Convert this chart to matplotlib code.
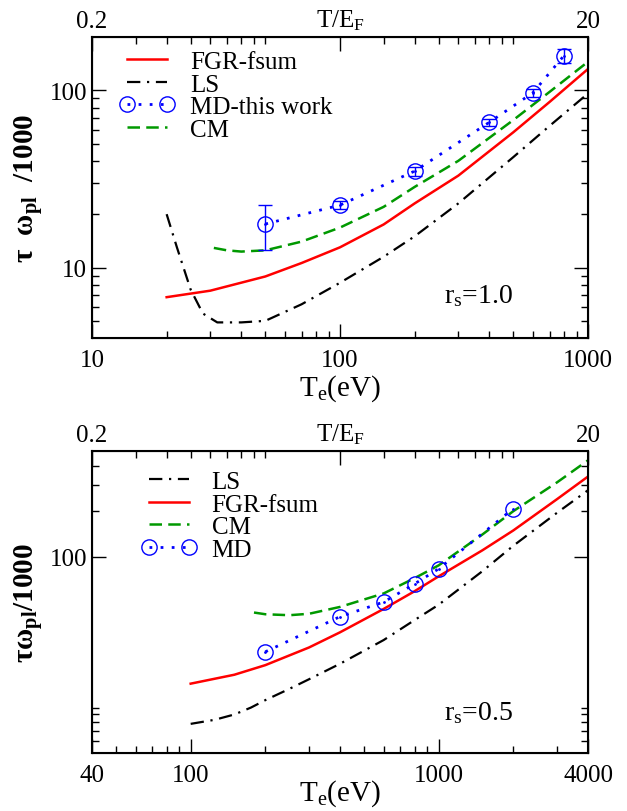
import numpy as np
import matplotlib
matplotlib.use('Agg')
import matplotlib.pyplot as plt
from matplotlib.ticker import FixedLocator, FixedFormatter, NullFormatter

plt.rcParams['font.family'] = ['Liberation Serif', 'DejaVu Serif']
plt.rcParams['mathtext.fontset'] = 'custom'
plt.rcParams['mathtext.rm'] = 'Liberation Serif'
plt.rcParams['mathtext.it'] = 'Liberation Serif:italic'
plt.rcParams['mathtext.bf'] = 'Liberation Serif:bold'

# ---- rs = 1.0 (top panel) ----
te_fgr1 = [20, 30, 50, 70, 100, 150, 200, 300, 500, 700, 1000]
fgr1 = [6.8, 7.4, 8.9, 10.6, 13.0, 17.5, 23.0, 33.0, 58.0, 86.0, 132.0]
te_ls1 = [20, 22, 25, 28, 32, 40, 50, 70, 100, 150, 200, 300, 500, 700, 1000]
ls1 = [20.0, 13.0, 7.5, 5.5, 4.9, 4.9, 5.0, 6.2, 8.2, 11.5, 15.0, 23.0, 42.0, 63.0, 96.0]
te_cm1 = [31, 35, 40, 50, 70, 100, 150, 200, 300, 500, 700, 1000]
cm1 = [12.9, 12.5, 12.3, 12.5, 14.0, 16.8, 22.0, 28.5, 40.0, 68.0, 98.0, 145.0]
te_md1 = [50, 100, 200, 400, 600, 800]
md1 = [17.6, 22.5, 35.0, 66.0, 97.0, 157.0]
md1_err = [5.0, 1.2, 2.0, 3.0, 5.0, 15.0]

# ---- rs = 0.5 (bottom panel) ----
te_fgr2 = [100, 150, 200, 300, 400, 600, 800, 1000, 1500, 2000, 3000, 4000]
fgr2 = [14.4, 16.5, 19.1, 25.0, 31.5, 45.0, 59.0, 74.0, 110.0, 149.0, 240.0, 339.0]
te_ls2 = [100, 125, 150, 175, 200, 250, 300, 400, 600, 800, 1000, 1500, 2000, 3000, 4000]
ls2 = [7.8, 8.3, 9.0, 10.0, 11.2, 13.3, 15.4, 19.5, 28.0, 38.0, 48.0, 80.0, 118.0, 195.0, 275.0]
te_cm2 = [180, 200, 250, 300, 400, 600, 800, 1000, 1500, 2000, 3000, 4000]
cm2 = [42.6, 41.5, 40.9, 41.8, 46.4, 57.0, 72.0, 87.5, 140.0, 200.0, 310.0, 434.0]
te_md2 = [200, 400, 600, 800, 1000, 2000]
md2 = [23.4, 40.0, 50.0, 66.0, 83.0, 208.0]

FS = 18
red = '#ff0000'
green = '#009900'
blue = '#0000ff'
dashdot = (0, (6, 3, 1, 3))
dashed = (0, (5, 2.5))
dotted = (0, (1, 3))


def md_line(ax, x, y, label, yerr=None):
    if yerr is not None:
        ax.errorbar(x, y, yerr=yerr, fmt='none', ecolor=blue, elinewidth=1,
                    capsize=5, capthick=1, zorder=4)
    ax.plot(x, y, color=blue, ls=dotted, lw=2, marker='o', ms=11,
            mfc='none', mec=blue, mew=1, label=label, zorder=5)
    ax.plot(x, y, ls='none', marker='.', ms=2, color=blue, zorder=5)


def style_axes(ax):
    ax.set_xscale('log')
    ax.set_yscale('log')
    ax.tick_params(which='both', direction='in', top=False, right=True,
                   labelsize=FS, width=1)
    ax.tick_params(which='major', length=10)
    ax.tick_params(which='minor', length=5)
    for s in ax.spines.values():
        s.set_linewidth(1.5)


def top_axis(ax, lo, hi, minor):
    ax2 = ax.twiny()
    ax2.set_xscale('log')
    ax2.set_xlim(lo, hi)
    ax2.xaxis.set_major_locator(FixedLocator([lo, lo * 10, hi]))
    ax2.xaxis.set_major_formatter(FixedFormatter(['0.2', r'T/E$_\mathregular{F}$', '20']))
    ax2.xaxis.set_minor_locator(FixedLocator(minor))
    ax2.xaxis.set_minor_formatter(NullFormatter())
    ax2.tick_params(which='both', direction='in', labelsize=FS, width=1)
    ax2.tick_params(which='major', length=10)
    ax2.tick_params(which='minor', length=5)
    return ax2


fig = plt.figure(figsize=(6.27, 8.12), dpi=100)
ax1 = fig.add_axes([0.1467, 0.5825, 0.7911, 0.3707])
ax2 = fig.add_axes([0.1467, 0.0714, 0.7911, 0.3719])

# top panel
style_axes(ax1)
ax1.plot(te_fgr1, fgr1, color=red, lw=1.8, label='FGR-fsum')
ax1.plot(te_ls1, ls1, color='black', lw=1.6, ls=dashdot, label='LS')
md_line(ax1, te_md1, md1, 'MD-this work', yerr=md1_err)
ax1.plot(te_cm1, cm1, color=green, lw=1.8, ls=dashed, label='CM')
ax1.set_xlim(10, 1000)
ax1.set_ylim(4, 200)
ax1.xaxis.set_major_locator(FixedLocator([10, 100, 1000]))
ax1.xaxis.set_major_formatter(FixedFormatter(['10', '100', '1000']))
ax1.xaxis.set_minor_locator(FixedLocator([k * d for d in (10, 100) for k in range(2, 10)]))
ax1.xaxis.set_minor_formatter(NullFormatter())
ax1.yaxis.set_major_locator(FixedLocator([10, 100]))
ax1.yaxis.set_major_formatter(FixedFormatter(['10', '100']))
ax1.yaxis.set_minor_locator(FixedLocator([5, 6, 7, 8, 9] + [k * 10 for k in range(2, 10)]))
ax1.yaxis.set_minor_formatter(NullFormatter())
ax1.tick_params(axis='x', pad=8)
ax1.set_xlabel(r'T$_\mathregular{e}$(eV)', fontsize=21)
ax1.xaxis.set_label_coords(0.5, -0.115)
ax1.set_ylabel(r'τ  ω$_\mathregular{pl}$  /1000', fontsize=21, fontweight='bold')
ax1.yaxis.set_label_coords(-0.095, 0.5)
ax1.text(0.71, 0.143, r'r$_\mathregular{s}$=1.0', transform=ax1.transAxes,
         fontsize=20, va='center')
ax1.legend(loc='upper left', bbox_to_anchor=(0.056, 0.955), frameon=False,
           fontsize=FS, handlelength=2.2, handletextpad=0.6, labelspacing=0.0,
           borderpad=0, borderaxespad=0, numpoints=2)
top_axis(ax1, 0.2, 20, [k * d for d in (0.1, 1) for k in range(3, 10)] + [1, 10])

# bottom panel
style_axes(ax2)
ax2.plot(te_ls2, ls2, color='black', lw=1.6, ls=dashdot, label='LS')
ax2.plot(te_fgr2, fgr2, color=red, lw=1.8, label='FGR-fsum')
ax2.plot(te_cm2, cm2, color=green, lw=1.8, ls=dashed, label='CM')
md_line(ax2, te_md2, md2, 'MD')
ax2.set_xlim(40, 4000)
ax2.set_ylim(5, 500)
ax2.xaxis.set_major_locator(FixedLocator([40, 100, 1000, 4000]))
ax2.xaxis.set_major_formatter(FixedFormatter(['40', '100', '1000', '4000']))
ax2.xaxis.set_minor_locator(FixedLocator([50, 60, 70, 80, 90] + [k * 100 for k in range(2, 10)] + [2000, 3000]))
ax2.xaxis.set_minor_formatter(NullFormatter())
ax2.yaxis.set_major_locator(FixedLocator([100]))
ax2.yaxis.set_major_formatter(FixedFormatter(['100']))
ax2.yaxis.set_minor_locator(FixedLocator([6, 7, 8, 9, 10, 200, 300, 400]))
ax2.yaxis.set_minor_formatter(NullFormatter())
ax2.tick_params(axis='x', pad=8)
ax2.set_xlabel(r'T$_\mathregular{e}$(eV)', fontsize=21)
ax2.xaxis.set_label_coords(0.5, -0.08)
ax2.set_ylabel(r'τω$_\mathregular{pl}$/1000', fontsize=21, fontweight='bold')
ax2.yaxis.set_label_coords(-0.095, 0.5)
ax2.text(0.71, 0.136, r'r$_\mathregular{s}$=0.5', transform=ax2.transAxes,
         fontsize=20, va='center')
ax2.legend(loc='upper left', bbox_to_anchor=(0.10, 0.935), frameon=False,
           fontsize=FS, handlelength=2.2, handletextpad=0.6, labelspacing=0.0,
           borderpad=0, borderaxespad=0, numpoints=2)
top_axis(ax2, 0.2, 20, [k * d for d in (0.1, 1) for k in range(3, 10)] + [1, 10])

fig.savefig('out.png', dpi=100)
